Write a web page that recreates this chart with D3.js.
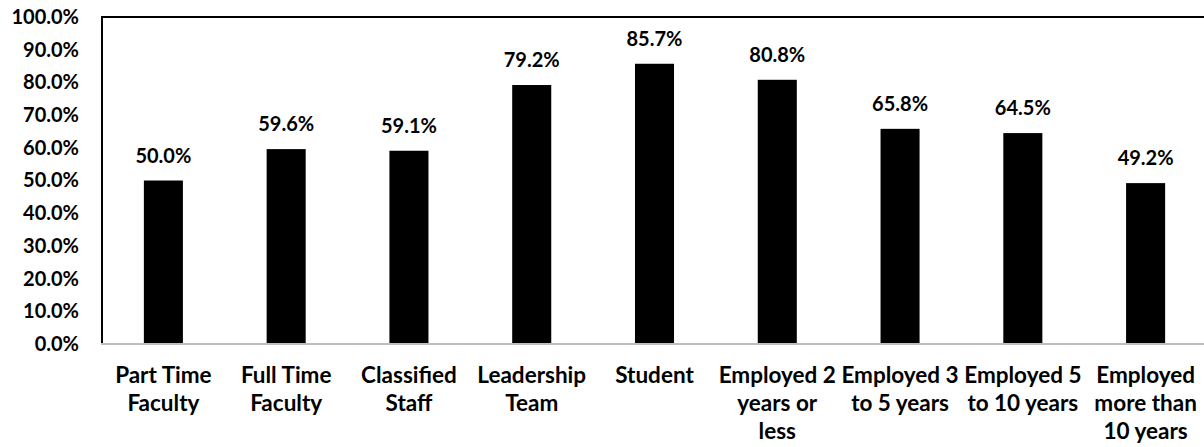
<!DOCTYPE html>
<html>
<head>
<meta charset="utf-8">
<script src="https://cdn.jsdelivr.net/npm/d3@7"></script>
<style>
  html, body { margin: 0; padding: 0; background: #fff; }
  svg { display: block; }
  text { font-family: Lato, "Open Sans", sans-serif; font-weight: bold; fill: #000; }
</style>
</head>
<body>
<svg id="chart" width="1204" height="447"></svg>
<script>
const categories = [
  "Part Time\nFaculty",
  "Full Time\nFaculty",
  "Classified\nStaff",
  "Leadership\nTeam",
  "Student",
  "Employed 2\nyears or\nless",
  "Employed 3\nto 5 years",
  "Employed 5\nto 10 years",
  "Employed\nmore than\n10 years"
];
const values = [50.0, 59.6, 59.1, 79.2, 85.7, 80.8, 65.8, 64.5, 49.2];
const yTicks = [0, 10, 20, 30, 40, 50, 60, 70, 80, 90, 100];

const svg = d3.select("#chart");
const mLeft = 102, mRight = 1207, mTop = 17, mBottom = 344;

const x = d3.scaleBand().domain(categories).range([mLeft, mRight]).paddingInner(0.682).paddingOuter(0.341);
const y = d3.scaleLinear().domain([0, 100]).range([mBottom, mTop]);

// plot border (top + right + left)
svg.append("path")
  .attr("d", `M${mLeft},${mBottom} V${mTop} H${mRight} V${mBottom}`)
  .attr("fill", "none").attr("stroke", "#000").attr("stroke-width", 2);

// bars
svg.selectAll("rect.bar").data(values).enter().append("rect")
  .attr("class", "bar")
  .attr("x", (d, i) => x(categories[i]))
  .attr("width", x.bandwidth())
  .attr("y", d => y(d))
  .attr("height", d => y(0) - y(d))
  .attr("fill", "#000");

// y axis labels
const yAxis = d3.axisLeft(y).tickValues(yTicks).tickSize(0).tickPadding(23)
  .tickFormat(d => d.toFixed(1) + "%");
const gy = svg.append("g").attr("transform", `translate(${mLeft},0)`).call(yAxis);
gy.select(".domain").remove();
gy.selectAll("text").attr("font-size", 20).style("font-family", "Lato, sans-serif").style("font-weight", "bold");

// x axis line
svg.append("line").attr("x1", mLeft - 1).attr("x2", mRight).attr("y1", mBottom).attr("y2", mBottom)
  .attr("stroke", "#bfbfbf").attr("stroke-width", 2);

// category labels
const xl = svg.append("g");
categories.forEach(c => {
  const cx = x(c) + x.bandwidth() / 2;
  const t = xl.append("text").attr("text-anchor", "middle").attr("font-size", 22.5)
    .attr("x", cx).attr("y", 383);
  c.split("\n").forEach((line, j) => {
    t.append("tspan").attr("x", cx).attr("dy", j === 0 ? 0 : 28).text(line);
  });
});

// value labels
svg.selectAll("text.val").data(values).enter().append("text")
  .attr("class", "val").attr("text-anchor", "middle").attr("font-size", 20)
  .attr("x", (d, i) => x(categories[i]) + x.bandwidth() / 2)
  .attr("y", d => y(d) - 18)
  .text(d => d.toFixed(1) + "%");
</script>
</body>
</html>
